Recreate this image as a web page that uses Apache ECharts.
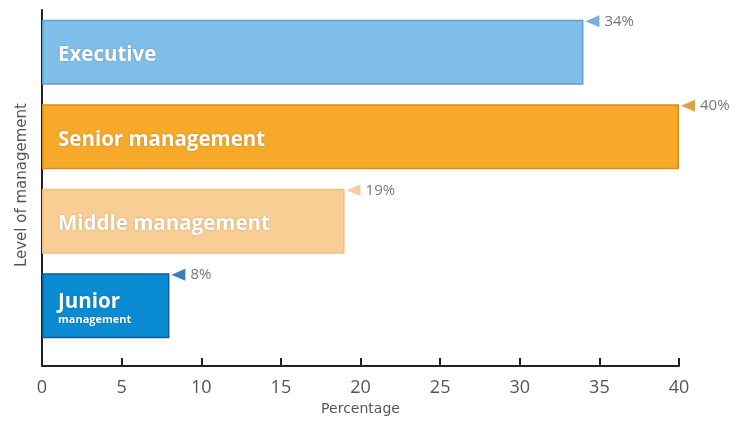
<!DOCTYPE html>
<html>
<head>
<meta charset="utf-8">
<script src="https://cdn.jsdelivr.net/npm/echarts@6/dist/echarts.min.js"></script>
<style>
  html, body { margin: 0; padding: 0; background: #ffffff; }
  #chart { width: 740px; height: 421px; }
</style>
</head>
<body>
<div id="chart"></div>
<script>
// Share of respondents by level of management
const categories = ['Executive', 'Senior management', 'Middle management', 'Junior management'];
const values = [34, 40, 19, 8];
const xTicks = [0, 5, 10, 15, 20, 25, 30, 35, 40];

// Per-level colours: bar fill, bar outline, marker
const fillColors = ['#80bee8', '#f7a92a', '#f9ce95', '#0b8bd1'];
const edgeColors = ['#5d9dd2', '#d98b16', '#efbf84', '#0b5c98'];
const markerColors = ['#5b9bd5', '#d6890f', '#f1c38f', '#0c5ea5'];

const chart = echarts.init(document.getElementById('chart'), null, { renderer: 'canvas' });

const FONT = '"Open Sans", "DejaVu Sans", sans-serif';
const NAME_FONT = '"DejaVu Sans", "Open Sans", sans-serif';

chart.setOption({
  animation: false,
  backgroundColor: '#ffffff',
  grid: [
    // bars
    { left: 42, right: 61, top: 10, height: 338 },
    // visible axes
    { left: 42, right: 61, top: 10, bottom: 50 }
  ],
  xAxis: [
    { gridIndex: 0, type: 'value', min: xTicks[0], max: xTicks[xTicks.length - 1], interval: 5, show: false },
    {
      gridIndex: 1, type: 'value', min: xTicks[0], max: xTicks[xTicks.length - 1], interval: 5,
      name: 'Percentage', nameLocation: 'middle', nameGap: 35,
      nameTextStyle: { fontFamily: NAME_FONT, fontSize: 14, color: '#555' },
      axisLine: { show: true, lineStyle: { color: '#222', width: 2 } },
      axisTick: { show: true, inside: true, length: 8, lineStyle: { color: '#222', width: 2 } },
      axisLabel: { fontFamily: FONT, fontSize: 18, color: '#555', margin: 13 },
      splitLine: { show: false }
    }
  ],
  yAxis: [
    {
      gridIndex: 0, type: 'category', data: categories, inverse: true,
      axisLine: { show: false }, axisTick: { show: false }, axisLabel: { show: false }
    },
    {
      gridIndex: 1, type: 'value', min: 0, max: 1,
      name: 'Level of management', nameLocation: 'middle', nameGap: 12, nameRotate: 90,
      nameTextStyle: { fontFamily: NAME_FONT, fontSize: 15, color: '#555', padding: [0, 0, 0, 6] },
      axisLine: { show: true, lineStyle: { color: '#222', width: 2 } },
      axisTick: { show: false }, axisLabel: { show: false }, splitLine: { show: false }
    }
  ],
  series: [
    {
      type: 'bar',
      xAxisIndex: 0, yAxisIndex: 0,
      barWidth: 65,
      data: values.map((v, i) => ({
        value: v,
        itemStyle: { color: fillColors[i], borderColor: edgeColors[i], borderWidth: 1.5 }
      })),
      label: {
        show: true,
        position: 'insideLeft',
        distance: 16,
        offset: [0, 3],
        formatter: p => p.name === 'Junior management'
          ? '{a|Junior}\n{b|management}'
          : '{a|' + p.name + '}',
        rich: {
          a: {
            fontFamily: FONT, fontWeight: 'bold', fontSize: 20.5, color: '#ffffff', lineHeight: 22,
            textShadowColor: 'rgba(0,0,0,0.25)', textShadowBlur: 2
          },
          b: {
            fontFamily: FONT, fontWeight: 'bold', fontSize: 11, color: '#ffffff', lineHeight: 13,
            textShadowColor: 'rgba(0,0,0,0.25)', textShadowBlur: 2
          }
        }
      }
    },
    {
      type: 'scatter',
      xAxisIndex: 0, yAxisIndex: 0,
      clip: false,
      symbol: 'path://M0,6 L14,0 L14,12 Z',
      symbolSize: [14, 12],
      symbolOffset: [9, -31],
      data: values.map((v, i) => ({
        value: [v, categories[i]],
        itemStyle: { color: markerColors[i] }
      })),
      label: {
        show: true,
        position: 'right',
        distance: 5,
        formatter: p => p.value[0] + '%',
        fontFamily: FONT, fontSize: 15, color: '#555'
      },
      z: 5
    }
  ]
});
</script>
</body>
</html>
